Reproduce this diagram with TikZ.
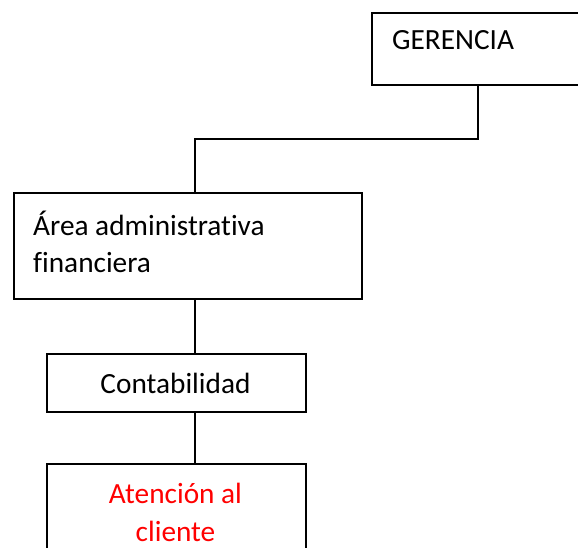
\documentclass[tikz,border=0pt]{standalone}
\usepackage{fontspec}
\setmainfont{Carlito}[Ligatures=NoCommon]
\begin{document}
\begin{tikzpicture}[x=1pt,y=-1pt,
  box/.style={draw=black,line width=1.6pt,rectangle,inner sep=0pt,anchor=north west},
  lbl/.style={inner sep=0pt,anchor=base west,font=\fontsize{29.3}{37}\selectfont},
  lblc/.style={inner sep=0pt,anchor=base,font=\fontsize{29.3}{37}\selectfont},
  link/.style={draw=black,line width=1.6pt}]
\useasboundingbox (0,0) rectangle (578,548);
\clip (0,0) rectangle (578,548);
\fill[white] (0,0) rectangle (578,548);
\node[box,minimum width=212pt,minimum height=72pt] (ger) at (371,12) {};
\node[box,minimum width=348pt,minimum height=106pt] (are) at (13,192) {};
\node[box,minimum width=259pt,minimum height=58pt] (con) at (46,353) {};
\node[box,minimum width=259pt,minimum height=130pt] (ate) at (46,463) {};
\node[lbl] (tger) at (392,50) {GERENCIA};
\node[lbl] (tare1) at (33,235) {Área administrativa};
\node[lbl] (tare2) at (33,272) {financiera};
\node[lblc] (tcon) at (175.5,393) {Contabilidad};
\node[lblc,text=red] (tate1) at (175.5,503) {Atención al};
\node[lblc,text=red] (tate2) at (175.5,541) {cliente};
\coordinate (j) at (195,139);
\draw[link] (ger.south) |- (j) -- (j |- are.north);
\draw[link] (are.south -| j) -- (con.north -| j);
\draw[link] (con.south -| j) -- (ate.north -| j);
\end{tikzpicture}
\end{document}
